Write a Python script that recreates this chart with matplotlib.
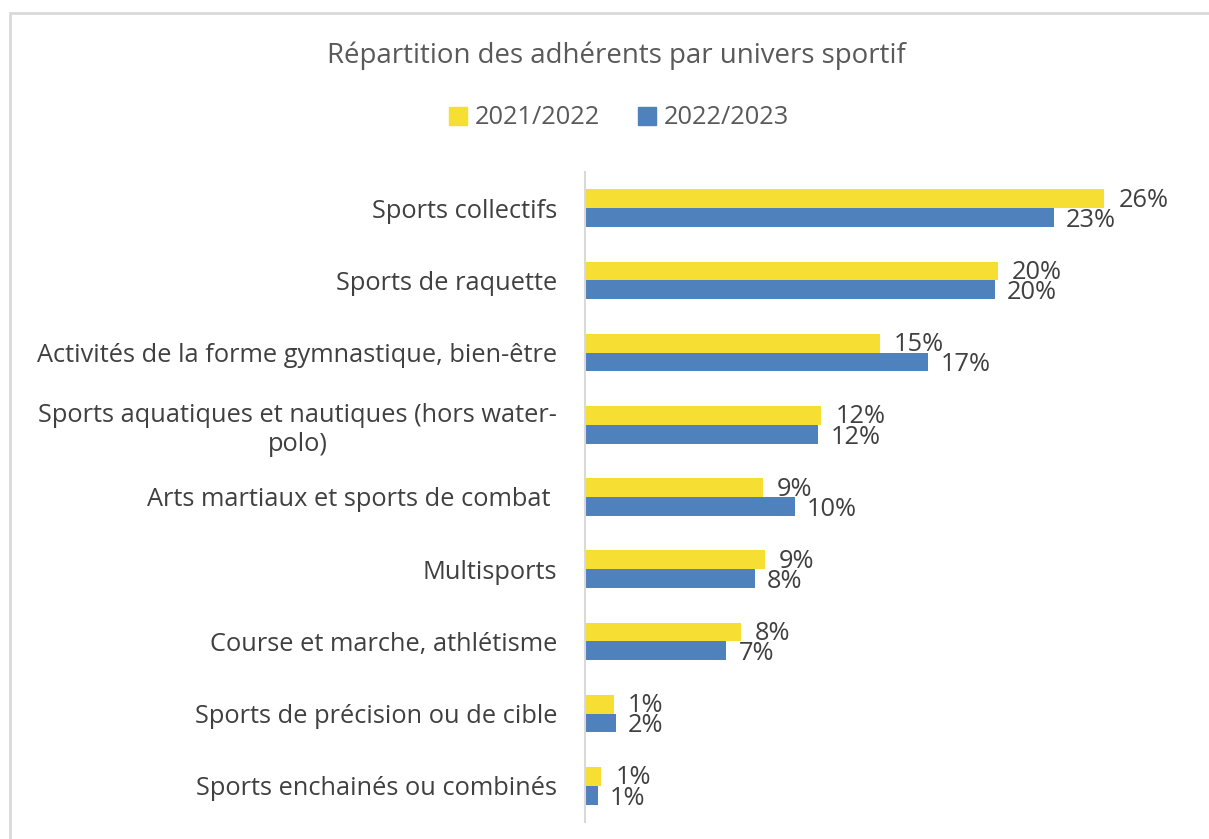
import matplotlib
matplotlib.use("Agg")
import matplotlib.pyplot as plt
from matplotlib.patches import Rectangle, Patch
import numpy as np

plt.rcParams['font.family'] = ['Open Sans', 'DejaVu Sans']

categories = [
    "Sports collectifs",
    "Sports de raquette",
    "Activités de la forme gymnastique, bien-être",
    "Sports aquatiques et nautiques (hors water-\npolo)",
    "Arts martiaux et sports de combat ",
    "Multisports",
    "Course et marche, athlétisme",
    "Sports de précision ou de cible",
    "Sports enchainés ou combinés",
]
series_names = ["2021/2022", "2022/2023"]
values_2122 = [25.7, 20.45, 14.6, 11.7, 8.8, 8.9, 7.7, 1.44, 0.8]
values_2223 = [23.2, 20.3, 17.0, 11.55, 10.4, 8.4, 7.0, 1.52, 0.63]

yellow = "#F7DE32"
blue = "#4F81BD"
text_col = "#404040"
fs = 18.3

fig = plt.figure(figsize=(12.09, 8.39), dpi=100)
ax = fig.add_axes([585/1209, 1-822/839, (1191-585)/1209, (822-172)/839])

n = len(categories)
y = np.arange(n)
h = 0.26
ax.barh(y - h/2, values_2122, height=h, color=yellow, label=series_names[0])
ax.barh(y + h/2, values_2223, height=h, color=blue, label=series_names[1])

for yi, v in zip(y, values_2122):
    ax.text(v + 0.7, yi - h/2 + 0.02, f"{v:.0f}%", va='center', ha='left', fontsize=fs, color=text_col)
for yi, v in zip(y, values_2223):
    ax.text(v + 0.6, yi + h/2 + 0.04, f"{v:.0f}%", va='center', ha='left', fontsize=fs, color=text_col)

ax.set_xlim(0, 30)
ax.set_ylim(n - 0.5, -0.5)
ax.set_yticks(y)
ax.set_yticklabels(categories, fontsize=fs, color=text_col)
for lbl in ax.get_yticklabels():
    lbl.set_multialignment('center')
ax.tick_params(axis='y', length=0, pad=20)
ax.set_xticks([])
for s in ['top', 'right', 'bottom']:
    ax.spines[s].set_visible(False)
ax.spines['left'].set_color('#d9d9d9')
ax.spines['left'].set_linewidth(1.5)

fig.text(0.51, 1-56/839, "Répartition des adhérents par univers sportif", ha='center', va='center',
         fontsize=19.9, color='#595959')
handles = [Patch(color=yellow), Patch(color=blue)]
fig.legend(handles, series_names, loc='center', bbox_to_anchor=(0.512, 1-118/839), ncol=2,
           frameon=False, fontsize=fs, handlelength=0.7, handleheight=0.7, handletextpad=0.3,
           columnspacing=1.5, labelcolor='#595959')

fig.patches.append(Rectangle((10/1209, -0.1), 1.2, 1 - 13/839 + 0.1, transform=fig.transFigure,
                             fill=False, edgecolor='#d9d9d9', linewidth=2))

fig.savefig("out.png", dpi=100)
